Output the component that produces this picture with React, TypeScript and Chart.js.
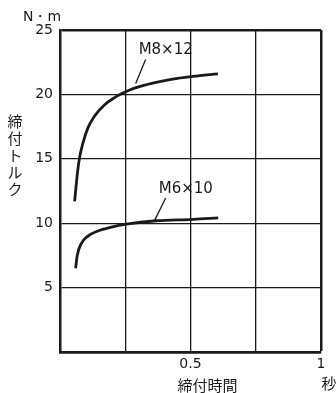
import React, { useEffect, useRef } from 'react';
import { Chart, registerables } from 'chart.js';

Chart.register(...registerables);

// 締付時間 (秒) と 締付トルク (N・m)
const m8Time = [0.056, 0.068, 0.075, 0.0875, 0.107, 0.132, 0.171, 0.209, 0.241, 0.28, 0.33, 0.382, 0.45, 0.509, 0.605];
const m8Torque = [11.7, 14.1, 15.1, 16.2, 17.4, 18.3, 19.2, 19.75, 20.1, 20.45, 20.75, 21.0, 21.25, 21.4, 21.6];
const m6Time = [0.06, 0.066, 0.081, 0.107, 0.145, 0.197, 0.254, 0.369, 0.51, 0.606];
const m6Torque = [6.5, 7.5, 8.4, 9.0, 9.4, 9.7, 9.93, 10.19, 10.3, 10.42];
const seriesNames = ['M8×12', 'M6×10'];
const xShownTicks = [0.5, 1];
const yShownTicks = [5, 10, 15, 20, 25];
// label anchors (data coords): [labelX, labelY, leaderFromX, leaderFromY, leaderToX, leaderToY]
const m8Label = [0.405, 23.4, 0.328, 22.7, 0.29, 20.85];
const m6Label = [0.482, 12.64, 0.405, 11.95, 0.363, 10.24];
const yTitle = ['締', '付', 'ト', 'ル', 'ク'];
const xTitle = '締付時間';
const yUnit = 'N・m';
const xUnit = '秒';

const INK = '#1a1a1a';
const LATIN = '"DejaVu Sans", "Liberation Sans", sans-serif';
const CJK = '"Noto Sans CJK JP", sans-serif';

export default function App() {
  const ref = useRef<HTMLCanvasElement>(null);
  useEffect(() => {
    if (!ref.current) return;
    const textPlugin = {
      id: 'texts',
      afterDraw(chart: any) {
        const { ctx, chartArea, scales } = chart;
        const xs = scales.x;
        const ys = scales.y;
        ctx.save();
        ctx.fillStyle = INK;
        ctx.strokeStyle = INK;
        // series labels + leader lines
        const labels = [m8Label, m6Label];
        labels.forEach((l, i) => {
          ctx.font = `15px ${LATIN}`;
          ctx.textAlign = 'center';
          ctx.textBaseline = 'middle';
          ctx.fillText(seriesNames[i], xs.getPixelForValue(l[0]), ys.getPixelForValue(l[1]));
          ctx.lineWidth = 1.3;
          ctx.beginPath();
          ctx.moveTo(xs.getPixelForValue(l[2]), ys.getPixelForValue(l[3]));
          ctx.lineTo(xs.getPixelForValue(l[4]), ys.getPixelForValue(l[5]));
          ctx.stroke();
        });
        // y unit
        ctx.font = `14px ${LATIN}`;
        ctx.textAlign = 'center';
        ctx.textBaseline = 'middle';
        ctx.fillText(yUnit, chartArea.left - 18, chartArea.top - 13);
        // y title stacked vertically
        ctx.font = `15px ${CJK}`;
        const yc = (chartArea.top + chartArea.bottom) / 2 - 36;
        yTitle.forEach((ch, i) => {
          ctx.fillText(ch, 15, yc + (i - 2) * 17);
        });
        // x title
        ctx.font = `15px ${CJK}`;
        ctx.fillText(xTitle, (chartArea.left + chartArea.right) / 2 + 17, chartArea.bottom + 33);
        // x unit
        ctx.fillText(xUnit, xs.getPixelForValue(1) + 8, chartArea.bottom + 31);
        ctx.restore();
      },
    };

    const chart = new Chart(ref.current, {
      type: 'scatter',
      data: {
        datasets: [
          {
            label: seriesNames[0],
            data: m8Time.map((t, i) => ({ x: t, y: m8Torque[i] })),
            showLine: true,
            borderColor: INK,
            borderWidth: 2.8,
            pointRadius: 0,
            cubicInterpolationMode: 'monotone',
          },
          {
            label: seriesNames[1],
            data: m6Time.map((t, i) => ({ x: t, y: m6Torque[i] })),
            showLine: true,
            borderColor: INK,
            borderWidth: 2.8,
            pointRadius: 0,
            cubicInterpolationMode: 'monotone',
          },
        ],
      },
      options: {
        animation: false,
        responsive: false,
        layout: { padding: { top: 30, right: 15, left: 0, bottom: 0 } },
        plugins: { legend: { display: false }, tooltip: { enabled: false } },
        scales: {
          x: {
            type: 'linear',
            min: 0,
            max: 1,
            afterFit: (s: any) => { s.height = 41; },
            ticks: {
              stepSize: 0.25,
              autoSkip: false,
              maxRotation: 0,
              padding: 4,
              color: INK,
              font: { family: LATIN, size: 14 },
              callback: (v: any) => (xShownTicks.includes(Number(v)) ? String(v) : ''),
            },
            grid: {
              drawTicks: false,
              color: INK,
              lineWidth: (c: any) => (c.tick && c.tick.value === 1 ? 2.5 : 1.3),
            },
            border: { color: INK, width: 2.5 },
          },
          y: {
            type: 'linear',
            min: 0,
            max: 25,
            afterFit: (s: any) => { s.width = 60; },
            ticks: {
              stepSize: 5,
              padding: 7,
              color: INK,
              font: { family: LATIN, size: 14 },
              callback: (v: any) => (yShownTicks.includes(Number(v)) ? String(v) : ''),
            },
            grid: {
              drawTicks: false,
              color: INK,
              lineWidth: (c: any) => (c.tick && (c.tick.value === 25 || c.tick.value === 0) ? 2.5 : 1.3),
            },
            border: { color: INK, width: 2.5 },
          },
        },
      },
      plugins: [textPlugin],
    } as any);
    return () => chart.destroy();
  }, []);

  return (
    <div style={{ position: 'absolute', left: 0, top: 0, width: 336, height: 393, background: '#fff' }}>
      <canvas ref={ref} width={336} height={393} style={{ display: 'block' }} />
    </div>
  );
}
